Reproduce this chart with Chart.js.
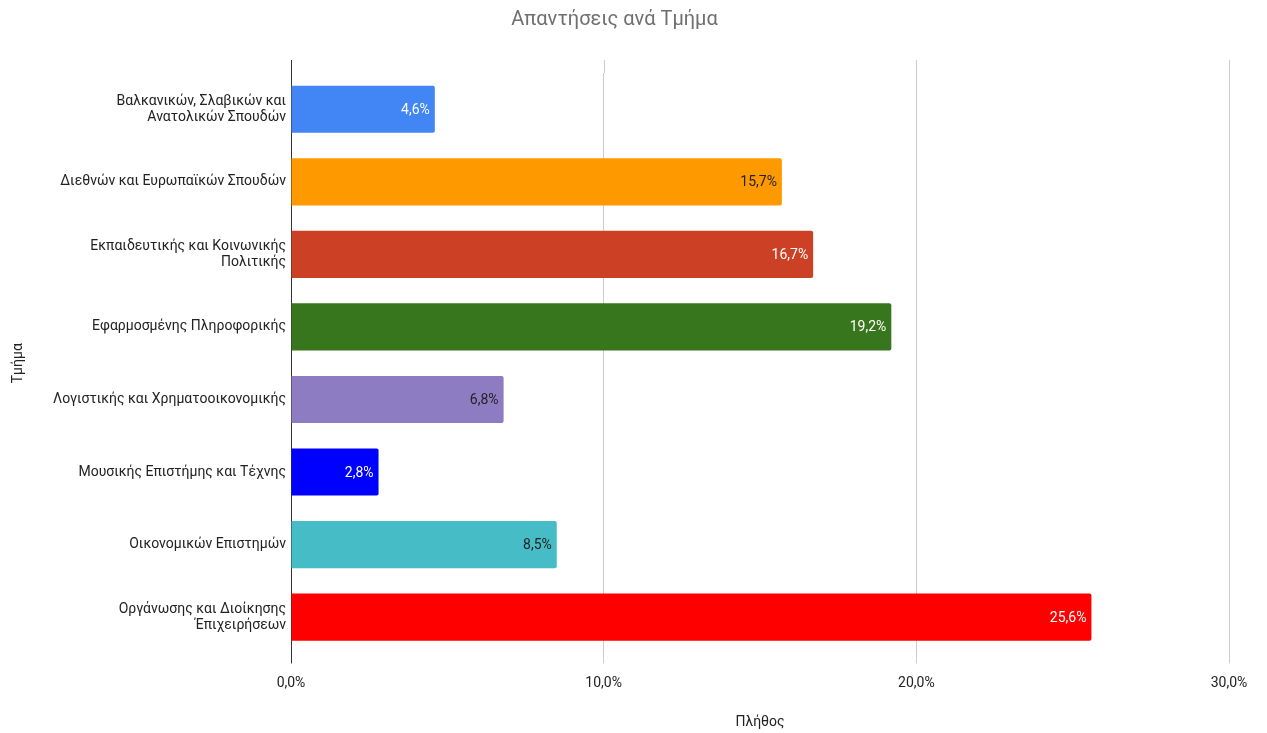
<!DOCTYPE html>
<html>
<head>
<meta charset="utf-8">
<script src="https://cdn.jsdelivr.net/npm/chart.js@4"></script>
<style>
  html, body { margin: 0; padding: 0; background: #fff; }
  #wrap { width: 1267px; height: 733px; }
</style>
</head>
<body>
<div id="wrap"><canvas id="chart"></canvas></div>
<script>
// Data
const departments = [
    ['Βαλκανικών, Σλαβικών και', 'Ανατολικών Σπουδών'],
    'Διεθνών και Ευρωπαϊκών Σπουδών',
    ['Εκπαιδευτικής και Κοινωνικής', 'Πολιτικής'],
    'Εφαρμοσμένης Πληροφορικής',
    'Λογιστικής και Χρηματοοικονομικής',
    'Μουσικής Επιστήμης και Τέχνης',
    'Οικονομικών Επιστημών',
    ['Οργάνωσης και Διοίκησης', 'Έπιχειρήσεων']
];
const shares = [4.6, 15.7, 16.7, 19.2, 6.8, 2.8, 8.5, 25.6];
const barColors = ['#4285f4', '#ff9900', '#cc4125', '#38761d', '#8e7cc3', '#0000ff', '#46bdc6', '#ff0000'];
const labelColors = ['#ffffff', '#222222', '#ffffff', '#ffffff', '#222222', '#ffffff', '#222222', '#ffffff'];
const xTicks = [0, 10, 20, 30];

const FONT = 'Roboto, "Noto Sans", sans-serif';

function pct(v) {
    return v.toFixed(1).replace('.', ',') + '%';
}

// value labels inside the end of each bar
const barLabels = {
    id: 'barLabels',
    afterDatasetsDraw(chart) {
        const ctx = chart.ctx;
        const meta = chart.getDatasetMeta(0);
        ctx.save();
        ctx.font = '14px ' + FONT;
        ctx.textAlign = 'right';
        ctx.textBaseline = 'middle';
        meta.data.forEach((bar, i) => {
            ctx.fillStyle = labelColors[i];
            ctx.fillText(pct(shares[i]), bar.x - 5, bar.y + 1);
        });
        ctx.restore();
    }
};

// vertical grid lines run a bit above the plot area
const gridTop = {
    id: 'gridTop',
    beforeDatasetsDraw(chart) {
        const ctx = chart.ctx;
        const x = chart.scales.x;
        const top = chart.chartArea.top;
        ctx.save();
        ctx.lineWidth = 1;
        xTicks.forEach((t, i) => {
            const px = Math.round(x.getPixelForValue(t)) + 0.5;
            ctx.strokeStyle = i === 0 ? '#333333' : '#cccccc';
            ctx.beginPath();
            ctx.moveTo(px, top - 13);
            ctx.lineTo(px, top);
            ctx.stroke();
        });
        ctx.restore();
    }
};

new Chart(document.getElementById('chart'), {
    type: 'bar',
    data: {
        labels: departments,
        datasets: [{
            data: shares,
            backgroundColor: barColors,
            borderRadius: 2,
            borderSkipped: 'start',
            categoryPercentage: 1,
            barPercentage: 0.65
        }]
    },
    options: {
        indexAxis: 'y',
        responsive: true,
        maintainAspectRatio: false,
        animation: false,
        layout: { padding: { left: 0, right: 38, top: 0, bottom: 2 } },
        plugins: {
            legend: { display: false },
            tooltip: { enabled: false },
            title: {
                display: true,
                text: 'Απαντήσεις ανά Τμήμα',
                color: '#6f6f6f',
                font: { family: FONT, size: 20, weight: 'normal' },
                padding: { top: 8, bottom: 41 }
            }
        },
        scales: {
            x: {
                min: 0,
                max: 30,
                afterBuildTicks: (scale) => {
                    scale.ticks = xTicks.map(v => ({ value: v }));
                },
                ticks: {
                    color: '#222222',
                    font: { family: FONT, size: 14 },
                    padding: 12,
                    callback: (v) => pct(v)
                },
                grid: {
                    color: (c) => c.index === 0 ? '#333333' : '#cccccc',
                    tickLength: 10,
                    drawTicks: true
                },
                border: { display: false },
                title: {
                    display: true,
                    text: 'Πλήθος',
                    color: '#222222',
                    font: { family: FONT, size: 14 },
                    padding: { top: 10, bottom: 0 }
                }
            },
            y: {
                grid: { display: false, drawTicks: false },
                border: { display: true, color: '#333333' },
                ticks: {
                    color: '#222222',
                    font: { family: FONT, size: 14, lineHeight: 1.15 },
                    padding: 5
                },
                afterFit: (scale) => { scale.width = 291; },
                title: {
                    display: true,
                    text: 'Τμήμα',
                    color: '#222222',
                    font: { family: FONT, size: 14 },
                    padding: { top: 10, bottom: 0 }
                }
            }
        }
    },
    plugins: [barLabels, gridTop]
});
</script>
</body>
</html>
